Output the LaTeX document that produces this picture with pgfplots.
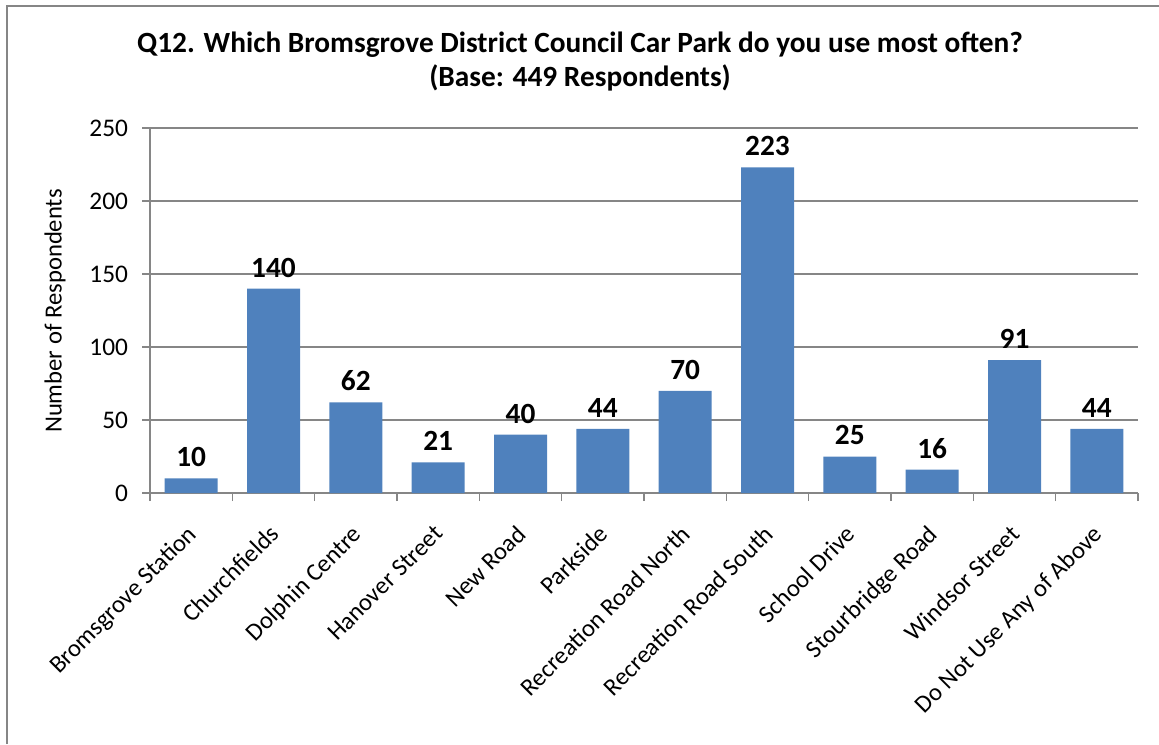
\documentclass[border=0pt]{standalone}
\usepackage{fontspec}
\setmainfont{Carlito}
\usepackage{pgfplots}
\pgfplotsset{compat=1.18}
\definecolor{barblue}{HTML}{4F81BD}
\definecolor{gridgray}{HTML}{868686}
\begin{document}
\begin{tikzpicture}[x=0.75pt,y=0.75pt]
\path[use as bounding box] (0,0) rectangle (1159,-744);
\draw[gridgray, line width=2.2pt] (7,-744) -- (7,-6) -- (1159,-6);
\node[font=\bfseries\fontsize{22}{25}\selectfont, align=center] at (580,-61.5)
  {Q12. Which Bromsgrove District Council Car Park do you use most often?\\(Base: 449 Respondents)};
\node[rotate=90, font=\fontsize{18.5}{21}\selectfont] at (55,-311) {Number of Respondents};
\begin{axis}[
  at={(112.5pt,-369.75pt)}, anchor=south west,
  scale only axis, width=741pt, height=273.75pt,
  xmin=-0.5, xmax=11.5, ymin=0, ymax=250,
  axis x line*=bottom, axis y line*=left,
  axis line style={gridgray, line width=0.9pt},
  ytick={0,50,...,250},
  ymajorgrids, grid style={gridgray, line width=0.9pt},
  tick align=outside,
  major tick length=6pt,
  xtick={0,...,11},
  xticklabels={Bromsgrove Station, Churchfields, Dolphin Centre, Hanover Street, New Road, Parkside, Recreation Road North, Recreation Road South, School Drive, Stourbridge Road, Windsor Street, Do Not Use Any of Above},
  major x tick style={draw=none},
  minor xtick={-0.5,0.5,...,11.5},
  minor tick length=6pt,
  minor x tick style={gridgray, line width=0.9pt},
  y tick style={gridgray, line width=0.9pt},
  xticklabel style={xshift=-4pt, yshift=-14pt, rotate=45, anchor=north east, font=\fontsize{18.5}{20}\selectfont, inner sep=2pt},
  yticklabel style={font=\fontsize{19}{20}\selectfont, xshift=-7pt},
  /pgf/number format/assume math mode=true,
  ybar, bar width=39.75pt,
  nodes near coords,
  every node near coord/.append style={font=\bfseries\fontsize{22}{24}\selectfont, black, yshift=5pt},
]
\addplot[fill=barblue, draw=none] coordinates {
 (0,10) (1,140) (2,62) (3,21) (4,40) (5,44) (6,70) (7,223) (8,25) (9,16) (10,91) (11,44)};
\end{axis}
\end{tikzpicture}
\end{document}
